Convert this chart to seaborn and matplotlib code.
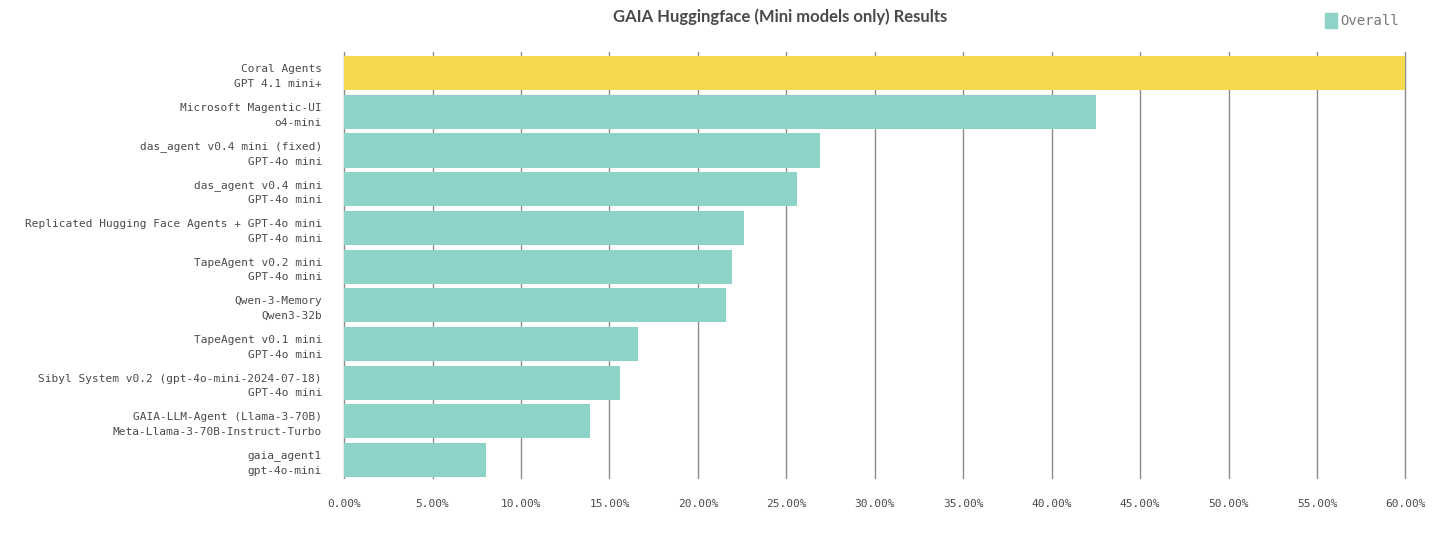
import matplotlib
matplotlib.use("Agg")
import matplotlib.pyplot as plt
import matplotlib.patches as mpatches
from matplotlib.ticker import FuncFormatter, MultipleLocator
import seaborn as sns
import pandas as pd

agents = [
    "Coral Agents\nGPT 4.1 mini+",
    "Microsoft Magentic-UI\no4-mini",
    "das_agent v0.4 mini (fixed)\nGPT-4o mini",
    "das_agent v0.4 mini\nGPT-4o mini",
    "Replicated Hugging Face Agents + GPT-4o mini\nGPT-4o mini",
    "TapeAgent v0.2 mini\nGPT-4o mini",
    "Qwen-3-Memory\nQwen3-32b",
    "TapeAgent v0.1 mini\nGPT-4o mini",
    "Sibyl System v0.2 (gpt-4o-mini-2024-07-18)\nGPT-4o mini",
    "GAIA-LLM-Agent (Llama-3-70B)\nMeta-Llama-3-70B-Instruct-Turbo",
    "gaia_agent1\ngpt-4o-mini",
]
overall = [60.0, 42.5, 26.9, 25.6, 22.6, 21.9, 21.6, 16.6, 15.6, 13.9, 8.0]
highlight = "Coral Agents\nGPT 4.1 mini+"

teal = "#8dd3c7"
yellow = "#f5d94e"
text_col = "#4a4a4a"

df = pd.DataFrame({"agent": agents, "overall": overall})
palette = {a: (yellow if a == highlight else teal) for a in agents}

sns.set_style("white")
plt.rcParams["font.family"] = ["DejaVu Sans Mono"]

fig = plt.figure(figsize=(14.4, 5.33), dpi=100)
ax = fig.add_axes([0.239, 0.103, 0.737, 0.799])

sns.barplot(data=df, x="overall", y="agent", hue="agent", palette=palette,
            legend=False, width=0.88, saturation=1, linewidth=0, ax=ax)

ax.set_xlim(0, 60)
ax.set_ylim(10.47, -0.54)
ax.xaxis.set_major_locator(MultipleLocator(5))
ax.xaxis.set_major_formatter(FuncFormatter(lambda v, p: f"{v:.2f}%"))
ax.set_axisbelow(True)
ax.grid(axis="x", color="#8c8c8c", linewidth=1)
for gl in ax.get_xgridlines():
    gl.set_clip_on(False)
for s in ax.spines.values():
    s.set_visible(False)
ax.tick_params(axis="x", length=0, pad=15, labelsize=8, labelcolor=text_col)
ax.tick_params(axis="y", length=0, pad=16, labelsize=8, labelcolor=text_col)
for lbl in ax.get_yticklabels():
    lbl.set_horizontalalignment("right")
    lbl.set_linespacing(1.6)
ax.set_xlabel("")
ax.set_ylabel("")

fig.text(0.542, 0.968, "GAIA Huggingface (Mini models only) Results",
         ha="center", va="center", fontsize=12, color=text_col,
         family=["Lato", "DejaVu Sans"], fontweight="bold")

handle = mpatches.Patch(color=teal, label="Overall")
fig.legend(handles=[handle], loc="upper right", bbox_to_anchor=(0.98, 1.0),
           frameon=False, fontsize=10, handlelength=0.9, handleheight=1.3,
           handletextpad=0.2, labelcolor="#777777")

fig.savefig("out.png", dpi=100)
